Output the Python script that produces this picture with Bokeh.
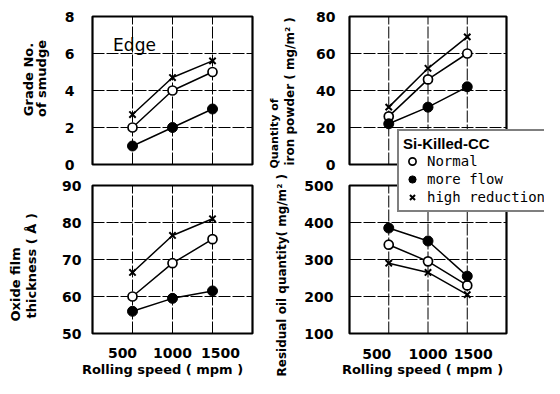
import math
from bokeh.plotting import figure
from bokeh.models import Range1d, Legend, LegendItem
from bokeh.core.properties import value
from bokeh.embed import file_html
from bokeh.resources import INLINE

# ---------------- data ----------------
speed = [500, 1000, 1500]
speed_ticks = [500, 1000, 1500]
speed_labels = ["500", "1000", "1500"]

smudge_ticks = [0, 2, 4, 6, 8]
smudge_normal = [2.0, 4.0, 5.0]
smudge_flow = [1.0, 2.0, 3.0]
smudge_high = [2.7, 4.7, 5.6]

powder_ticks = [0, 20, 40, 60, 80]
powder_normal = [26, 46, 60]
powder_flow = [22, 31, 42]
powder_high = [31, 52, 69]

oxide_ticks = [50, 60, 70, 80, 90]
oxide_normal = [60, 69, 75.5]
oxide_flow = [56, 59.5, 61.5]
oxide_high = [66.5, 76.5, 81]

oil_ticks = [100, 200, 300, 400, 500]
oil_normal = [340, 295, 230]
oil_flow = [385, 350, 255]
oil_high = [290, 265, 205]

speed_range = (0, 2000)

# ---------------- layout (page pixels) ----------------
W, H = 544, 378

p = figure(width=W, height=H, x_range=Range1d(0, W), y_range=Range1d(0, H),
           x_axis_location=None, y_axis_location=None, toolbar_location=None,
           output_backend="svg", min_border=0)
p.grid.visible = False
p.outline_line_color = None
p.background_fill_color = "white"
p.border_fill_color = "white"

SANS = value("DejaVu Sans")


class Panel:
    def __init__(self, L, R, T, B, yr):
        self.L, self.R, self.T, self.B, self.yr = L, R, T, B, yr
        self.sub = p.subplot(x_source=Range1d(*speed_range), y_source=Range1d(*yr),
                             x_target=Range1d(L, R), y_target=Range1d(H - B, H - T))

    def dx(self, rx):
        return rx - self.L

    def dy(self, ry):
        return ry - self.B


def draw_panel(pn, yticks, tick_right, normal, flow, high, xtick_y=None, xtick_shift=(0, 0, 0)):
    sub = pn.sub
    x0, x1 = speed_range
    y0, y1 = pn.yr
    sub.segment(x0=speed_ticks, x1=speed_ticks, y0=[y0] * len(speed_ticks), y1=[y1] * len(speed_ticks),
                line_color="black", line_width=1, line_dash="12 2")
    inner = yticks[1:-1]
    sub.segment(x0=[x0] * len(inner), x1=[x1] * len(inner), y0=inner, y1=inner,
                line_color="black", line_width=1, line_dash="12 2")
    sub.quad(left=[x0], right=[x1], bottom=[y0], top=[y1], fill_color=None,
             line_color="black", line_width=2.2)
    sub.text(x=[x0] * len(yticks), y=yticks, text=[str(t) for t in yticks],
             x_offset=pn.dx(tick_right), text_align="right", text_baseline="middle",
             text_font=SANS, text_font_style="bold", text_font_size="14px", text_color="black")
    if xtick_y is not None:
        sub.text(x=speed_ticks, y=[y0] * len(speed_ticks), text=speed_labels,
                 x_offset=list(xtick_shift), y_offset=pn.dy(xtick_y),
                 text_align="center", text_baseline="middle",
                 text_font=SANS, text_font_style="bold", text_font_size="14px", text_color="black")
    for vals in (normal, flow, high):
        sub.line(speed, vals, line_color="black", line_width=1.5)
    rn = sub.scatter(speed, normal, marker="circle", size=9, fill_color="white",
                     line_color="black", line_width=1.7)
    rf = sub.scatter(speed, flow, marker="circle", size=10, fill_color="black",
                     line_color="black", line_width=1)
    rh = sub.scatter(speed, high, marker="x", size=9, line_color="black", line_width=2)
    return rn, rf, rh


def vtitle(pn, text, rx, ry, align="center", size=13):
    pn.sub.text(x=[speed_range[0]], y=[pn.yr[0]], text=[text], angle=math.pi / 2,
                x_offset=pn.dx(rx), y_offset=pn.dy(ry), text_align=align, text_baseline="middle",
                text_font=SANS, text_font_style="bold", text_font_size="%dpx" % size,
                text_color="black")


def htitle(pn, text, rx, ry, size=13, bold=True):
    pn.sub.text(x=[speed_range[0]], y=[pn.yr[0]], text=[text],
                x_offset=pn.dx(rx), y_offset=pn.dy(ry), text_align="center", text_baseline="middle",
                text_font=SANS, text_font_style="bold" if bold else "normal",
                text_font_size="%dpx" % size, text_color="black")


# top-left: grade of smudge
tl = Panel(92, 252, 16, 164, (0, 8))
draw_panel(tl, smudge_ticks, 74, smudge_normal, smudge_flow, smudge_high)
vtitle(tl, "Grade No.", 28, 79)
vtitle(tl, "of smudge", 41, 78)
htitle(tl, "Edge", 134, 44, size=17, bold=False)

# top-right: iron powder
tr = Panel(349, 506, 16, 164, (0, 80))
rn, rf, rh = draw_panel(tr, powder_ticks, 335, powder_normal, powder_flow, powder_high)
vtitle(tr, "Quantity of", 274, 168, align="left", size=11)
vtitle(tr, "iron powder ( mg/m\u00b2 )", 289, 165, align="left", size=12)

# bottom-left: oxide film
bl = Panel(92, 252, 185, 333, (50, 90))
draw_panel(bl, oxide_ticks, 81, oxide_normal, oxide_flow, oxide_high,
           xtick_y=352, xtick_shift=(-10, 0, 8))
vtitle(bl, "Oxide film", 15, 321, align="left")
vtitle(bl, "thickness ( \u00c5 )", 31, 318, align="left")
htitle(bl, "Rolling speed ( mpm )", 162, 369)

# bottom-right: residual oil
br = Panel(349, 506, 185, 333, (100, 500))
draw_panel(br, oil_ticks, 333, oil_normal, oil_flow, oil_high,
           xtick_y=353, xtick_shift=(-12, 0, 6))
vtitle(br, "Residual oil quantity( mg/m\u00b2 )", 281, 376, align="left", size=12)
htitle(br, "Rolling speed ( mpm )", 422, 369)

# legend
legend = Legend(items=[LegendItem(label="Normal", renderers=[rn]),
                       LegendItem(label="more flow", renderers=[rf]),
                       LegendItem(label="high reduction", renderers=[rh])],
                title="Si-Killed-CC", location=(397, H - 211.7),
                border_line_color="black", border_line_width=2,
                background_fill_color="white", background_fill_alpha=1,
                padding=4, margin=0, spacing=0,
                glyph_width=18, glyph_height=18, label_height=18, label_standoff=6,
                label_text_font="DejaVu Sans Mono", label_text_font_size="14px",
                label_text_color="black",
                title_text_font="Liberation Sans", title_text_font_style="bold",
                title_text_font_size="15px", title_text_color="black", title_standoff=0)
p.add_layout(legend)

open("out.html", "w").write(file_html(p, INLINE))
